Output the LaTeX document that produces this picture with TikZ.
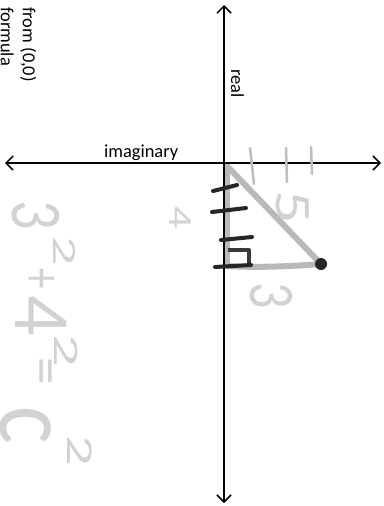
\documentclass[tikz,border=0pt]{standalone}
\usepackage{fontspec}
\setmainfont{Carlito}
\usetikzlibrary{arrows.meta}
\newcommand{\hwfont}[1]{\fontsize{#1}{#1}\selectfont}
\begin{document}
\begin{tikzpicture}[x=1pt,y=-1pt,
  axis/.style={line width=1.5pt, {Straight Barb[length=7pt,width=14pt]}-{Straight Barb[length=7pt,width=14pt]}},
  lbl/.style={inner sep=0, font=\fontsize{18.4}{22}\selectfont},
  handtext/.style={inner sep=0, text=gray!35},
  pencil/.style={draw=gray!55, line width=5pt, line cap=round, line join=round},
  inkline/.style={draw=black!85, line width=4pt, line cap=round},
  ticklight/.style={draw=gray!50, line width=2.5pt, line cap=round},
]
\useasboundingbox (0,0) rectangle (383,506);
% axis ends
\coordinate (O) at (224,163);
\coordinate (top) at (224,5);
\coordinate (bot) at (224,503);
\coordinate (lft) at (5,163);
\coordinate (rgt) at (381,163);
% triangle vertices
\coordinate (A) at (227,166);
\coordinate (B) at (227,266);
\coordinate (R) at (321,264);
% pencil triangle
\draw[pencil] (A) -- (B);
\draw[pencil, line width=6pt] (A) -- (R);
\draw[pencil, line width=6pt] (B) .. controls (260,268) and (295,266) .. (R);
\fill[gray!30!black] (R) circle (6);
% right-angle square
\coordinate (s1) at (228,250);
\coordinate (s2) at (249,250);
\coordinate (s3) at (249,265);
\draw[draw=gray!45!black, line width=4pt, line join=round] (s1) -- (s2) -- (s3);
% axes
\draw[axis] (top) -- (bot);
\draw[axis] (lft) -- (rgt);
% black ticks on the vertical axis
\coordinate (t1a) at (213,191); \coordinate (t1b) at (237,185);
\coordinate (t2a) at (212,212); \coordinate (t2b) at (246,208);
\coordinate (t3a) at (221,240); \coordinate (t3b) at (252,237);
\coordinate (t4a) at (215,267); \coordinate (t4b) at (251,265);
\draw[inkline] (t1a) -- (t1b);
\draw[inkline] (t2a) -- (t2b);
\draw[inkline] (t3a) -- (t3b);
\draw[inkline] (t4a) -- (t4b);
% light ticks on the horizontal axis
\coordinate (u1a) at (250,148); \coordinate (u1b) at (254,184);
\coordinate (u2a) at (286,148); \coordinate (u2b) at (287,182);
\coordinate (u3a) at (311,147); \coordinate (u3b) at (312,174);
\draw[ticklight] (u1a) -- (u1b);
\draw[ticklight] (u2a) -- (u2b);
\draw[ticklight] (u3a) -- (u3b);
% typed labels
\node[lbl, anchor=base west] (imag) at (104,157) {imaginary};
\node[lbl, anchor=base west, rotate=-90] (real) at (231,69) {real};
\node[lbl, anchor=base west, rotate=-90] (from) at (23,7) {from (0,0)};
\node[lbl, anchor=base west, rotate=-90] (formula) at (1,7) {formula};
% handwritten side labels
\node[handtext, font=\hwfont{51}, rotate=-90] (five) at (293,207) {\scalebox{1.3}[1]{5}};
\node[handtext, font=\hwfont{65}, rotate=-90] (three) at (271,296) {\scalebox{0.8}[1]{3}};
\node[handtext, font=\hwfont{34}, rotate=-90] (four) at (180,218) {\scalebox{1.3}[1]{4}};
% handwritten equation 3^2+4^2=c^2
\node[handtext, font=\hwfont{73}, rotate=-90] (e1) at (36,215) {\scalebox{0.8}[1]{3}};
\node[handtext, font=\hwfont{34}, rotate=-90] (e2) at (65,251) {\scalebox{1.7}[1]{2}};
\node[handtext, font=\hwfont{55}, rotate=-90] (e3) at (40,279) {\scalebox{0.75}[1]{+}};
\node[handtext, font=\hwfont{80}, rotate=-90] (e4) at (41,316) {4};
\node[handtext, font=\hwfont{36}, rotate=-90] (e5) at (66,351) {\scalebox{1.8}[1]{2}};
\node[handtext, font=\hwfont{55}, rotate=-90] (e6) at (40,371) {=};
\node[handtext, font=\hwfont{105}, rotate=-90] (e7) at (26,425) {\scalebox{0.85}[1]{c}};
\node[handtext, font=\hwfont{38}, rotate=-90] (e8) at (80,451) {\scalebox{1.6}[1]{2}};
\end{tikzpicture}
\end{document}
